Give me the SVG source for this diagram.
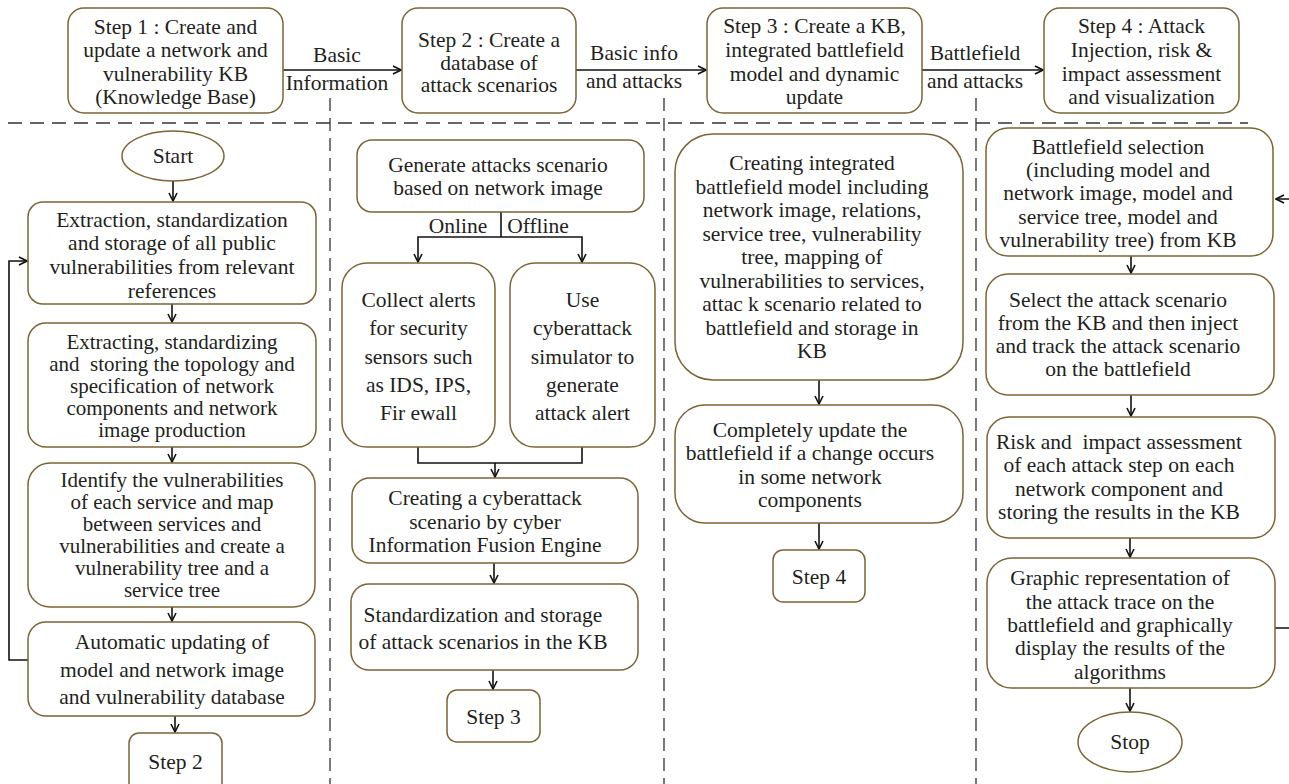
<svg xmlns="http://www.w3.org/2000/svg" width="1289" height="784" viewBox="0 0 1289 784">
<style>
text{font-family:"Liberation Serif","Times New Roman",serif;font-size:21.5px;fill:#231f20;text-anchor:middle}
.sm text{font-size:21px}
.pre{white-space:pre}
.box{fill:#fff;stroke:#7a6634;stroke-width:1.5}
.con{fill:none;stroke:#111;stroke-width:1.6}
.dash{fill:none;stroke:#333;stroke-width:1.3;stroke-dasharray:14 8}
.vdash{fill:none;stroke:#333;stroke-width:1.3;stroke-dasharray:13 7}
</style>
<defs>
<marker id="arr" viewBox="0 0 10 10" refX="9" refY="5" markerWidth="10" markerHeight="10" markerUnits="userSpaceOnUse" orient="auto">
<path d="M1,1 L9,5 L1,9" fill="none" stroke="#111" stroke-width="1.6"/>
</marker>
</defs>
<rect width="1289" height="784" fill="#fff"/>

<g id="separators">
<path class="dash" d="M8 123 H1248"/>
<path class="vdash" d="M330 98 V784"/>
<path class="vdash" d="M664 98 V784"/>
<path class="vdash" d="M976 98 V784"/>
</g>

<g id="connectors">
<path class="con" d="M283 70 H401" marker-end="url(#arr)"/>
<path class="con" d="M576 70 H706" marker-end="url(#arr)"/>
<path class="con" d="M922 70 H1043" marker-end="url(#arr)"/>
<text x="337" y="62">Basic</text>
<text x="337" y="90">Information</text>
<text x="634" y="60">Basic info</text>
<text x="634" y="88">and attacks</text>
<text x="975" y="60">Battlefield</text>
<text x="975" y="88">and attacks</text>

<path class="con" d="M173 181 V201" marker-end="url(#arr)"/>
<path class="con" d="M172 304 V322" marker-end="url(#arr)"/>
<path class="con" d="M172 447 V462" marker-end="url(#arr)"/>
<path class="con" d="M172 607 V621" marker-end="url(#arr)"/>
<path class="con" d="M175 716 V732" marker-end="url(#arr)"/>
<path class="con" d="M28 660 H9 V261 H27" marker-end="url(#arr)"/>

<path class="con" d="M501 212 V237"/>
<path class="con" d="M501 237 H418 V262" marker-end="url(#arr)"/>
<path class="con" d="M501 237 H582 V262" marker-end="url(#arr)"/>
<text x="458" y="233">Online</text>
<text x="538" y="233">Offline</text>
<path class="con" d="M418 447 V463 H582 V447"/>
<path class="con" d="M495 463 V477" marker-end="url(#arr)"/>
<path class="con" d="M494 563 V583" marker-end="url(#arr)"/>
<path class="con" d="M493 670 V689" marker-end="url(#arr)"/>

<path class="con" d="M819 380 V404" marker-end="url(#arr)"/>
<path class="con" d="M819 523 V549" marker-end="url(#arr)"/>

<path class="con" d="M1131 256 V273" marker-end="url(#arr)"/>
<path class="con" d="M1131 395 V416" marker-end="url(#arr)"/>
<path class="con" d="M1130 538 V557" marker-end="url(#arr)"/>
<path class="con" d="M1130 688 V711" marker-end="url(#arr)"/>
<path class="con" d="M1275 628 H1296 V199 H1276" marker-end="url(#arr)"/>
</g>

<g id="step1">
<rect class="box" x="68" y="8" width="215" height="105" rx="16"/>
<text x="175.5" y="34">Step 1 : Create and</text>
<text x="175.5" y="57">update a network and</text>
<text x="175.5" y="81">vulnerability KB</text>
<text x="175.5" y="104">(Knowledge Base)</text>
</g>
<g id="step2">
<rect class="box" x="402" y="8" width="174" height="105" rx="16"/>
<text x="489" y="47">Step 2 : Create a</text>
<text x="489" y="70">database of</text>
<text x="489" y="92">attack scenarios</text>
</g>
<g id="step3">
<rect class="box" x="707" y="8" width="215" height="105" rx="16"/>
<text x="814.5" y="33">Step 3 : Create a KB,</text>
<text x="814.5" y="57">integrated battlefield</text>
<text x="814.5" y="81">model and dynamic</text>
<text x="814.5" y="104">update</text>
</g>
<g id="step4">
<rect class="box" x="1044" y="8" width="195" height="105" rx="16"/>
<text x="1141.5" y="33">Step 4 : Attack</text>
<text x="1141.5" y="57">Injection, risk &amp;</text>
<text x="1141.5" y="81">impact assessment</text>
<text x="1141.5" y="104">and visualization</text>
</g>

<g id="start">
<ellipse class="box" cx="173" cy="156" rx="51" ry="25"/>
<text x="173" y="163">Start</text>
</g>
<g id="a1">
<rect class="box" x="28" y="202" width="288" height="102" rx="15"/>
<text x="172" y="227">Extraction, standardization</text>
<text x="172" y="250">and storage of all public</text>
<text x="172" y="274">vulnerabilities from relevant</text>
<text x="172" y="298">references</text>
</g>
<g id="a2" class="sm">
<rect class="box" x="28" y="323" width="288" height="124" rx="18"/>
<text x="172" y="349">Extracting, standardizing</text>
<text class="pre" x="172" y="371">and  storing the topology and</text>
<text x="172" y="393">specification of network</text>
<text x="172" y="415">components and network</text>
<text x="172" y="437">image production</text>
</g>
<g id="a3" class="sm">
<rect class="box" x="28" y="463" width="287" height="144" rx="22"/>
<text x="172" y="487">Identify the vulnerabilities</text>
<text x="172" y="509">of each service and map</text>
<text x="172" y="531">between services and</text>
<text x="172" y="553">vulnerabilities and create a</text>
<text x="172" y="575">vulnerability tree and a</text>
<text x="172" y="597">service tree</text>
</g>
<g id="a4">
<rect class="box" x="28" y="622" width="287" height="94" rx="18"/>
<text x="172" y="649">Automatic updating of</text>
<text x="172" y="677">model and network image</text>
<text x="172" y="704">and vulnerability database</text>
</g>
<g id="goto-step2">
<rect class="box" x="129" y="733" width="93" height="60" rx="10"/>
<text x="175.5" y="769">Step 2</text>
</g>

<g id="g1">
<rect class="box" x="357" y="140" width="287" height="72" rx="15"/>
<text x="498" y="172">Generate attacks scenario</text>
<text x="498" y="195">based on network image</text>
</g>
<g id="c1">
<rect class="box" x="342" y="263" width="153" height="184" rx="25"/>
<text x="418.5" y="307">Collect alerts</text>
<text x="418.5" y="335">for security</text>
<text x="418.5" y="364">sensors such</text>
<text x="418.5" y="392">as IDS, IPS,</text>
<text x="418.5" y="420">Fir ewall</text>
</g>
<g id="c2">
<rect class="box" x="510" y="263" width="145" height="184" rx="25"/>
<text x="582.5" y="307">Use</text>
<text x="582.5" y="335">cyberattack</text>
<text x="582.5" y="364">simulator to</text>
<text x="582.5" y="392">generate</text>
<text x="582.5" y="420">attack alert</text>
</g>
<g id="c3">
<rect class="box" x="352" y="478" width="286" height="85" rx="18"/>
<text x="485" y="505">Creating a cyberattack</text>
<text x="485" y="529">scenario by cyber</text>
<text x="485" y="552">Information Fusion Engine</text>
</g>
<g id="c4">
<rect class="box" x="351" y="584" width="287" height="86" rx="18"/>
<text x="483" y="622">Standardization and storage</text>
<text x="483" y="649">of attack scenarios in the KB</text>
</g>
<g id="goto-step3">
<rect class="box" x="447" y="690" width="93" height="52" rx="10"/>
<text x="493.5" y="724">Step 3</text>
</g>

<g id="d1">
<rect class="box" x="675" y="134" width="288" height="246" rx="38"/>
<text x="812" y="170">Creating integrated</text>
<text x="812" y="193.5">battlefield model including</text>
<text x="812" y="217">network image, relations,</text>
<text x="812" y="240.5">service tree, vulnerability</text>
<text x="812" y="264">tree, mapping of</text>
<text x="812" y="287.5">vulnerabilities to services,</text>
<text x="812" y="311">attac k scenario related to</text>
<text x="812" y="334.5">battlefield and storage in</text>
<text x="812" y="358">KB</text>
</g>
<g id="d2">
<rect class="box" x="675" y="405" width="288" height="118" rx="30"/>
<text x="810" y="437">Completely update the</text>
<text x="810" y="460">battlefield if a change occurs</text>
<text x="810" y="484">in some network</text>
<text x="810" y="507">components</text>
</g>
<g id="goto-step4">
<rect class="box" x="773" y="550" width="92" height="52" rx="10"/>
<text x="819" y="584">Step 4</text>
</g>

<g id="e1">
<rect class="box" x="986" y="128" width="287" height="128" rx="22"/>
<text x="1118" y="154">Battlefield selection</text>
<text x="1118" y="177">(including model and</text>
<text x="1118" y="200">network image, model and</text>
<text x="1118" y="224">service tree, model and</text>
<text x="1118" y="247">vulnerability tree) from KB</text>
</g>
<g id="e2">
<rect class="box" x="986" y="274" width="288" height="121" rx="22"/>
<text x="1118" y="307">Select the attack scenario</text>
<text x="1118" y="330">from the KB and then inject</text>
<text x="1118" y="353">and track the attack scenario</text>
<text x="1118" y="376">on the battlefield</text>
</g>
<g id="e3">
<rect class="box" x="987" y="417" width="288" height="121" rx="22"/>
<text class="pre" x="1119" y="449">Risk and  impact assessment</text>
<text x="1119" y="472">of each attack step on each</text>
<text x="1119" y="496">network component and</text>
<text x="1119" y="519">storing the results in the KB</text>
</g>
<g id="e4">
<rect class="box" x="987" y="558" width="288" height="130" rx="25"/>
<text x="1120" y="585">Graphic representation of</text>
<text x="1120" y="609">the attack trace on the</text>
<text x="1120" y="632">battlefield and graphically</text>
<text x="1120" y="655">display the results of the</text>
<text x="1120" y="679">algorithms</text>
</g>
<g id="stop">
<ellipse class="box" cx="1130" cy="742" rx="52" ry="30"/>
<text x="1130" y="749">Stop</text>
</g>
</svg>
